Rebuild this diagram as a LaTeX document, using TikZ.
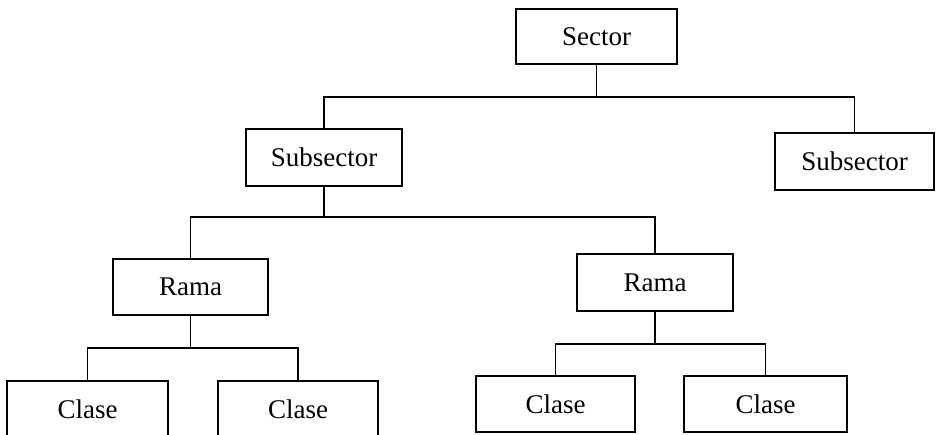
\documentclass[tikz,border=0pt]{standalone}
\usepackage{fontspec}
\setmainfont{Liberation Serif}
\begin{document}
\begin{tikzpicture}[x=1pt,y=-1pt,
  box/.style={draw,line width=1.5pt,inner sep=0pt,font=\fontsize{27}{32}\selectfont},
  conn/.style={line width=1.5pt}]
\path[use as bounding box,fill=white] (0,0) rectangle (936,435);
\clip (0,0) rectangle (936,435);
\node[box,minimum width=161pt,minimum height=55pt] (sector) at (596.5,36.5) {Sector};
\node[box,minimum width=156pt,minimum height=57pt] (subL) at (324,157.5) {Subsector};
\node[box,minimum width=159pt,minimum height=57pt] (subR) at (854.5,161.5) {Subsector};
\node[box,minimum width=155pt,minimum height=56pt] (ramaL) at (190.5,287) {Rama};
\node[box,minimum width=156pt,minimum height=57pt] (ramaR) at (655,282.5) {Rama};
\node[box,minimum width=161pt,minimum height=56pt] (c1) at (87.5,409) {Clase};
\node[box,minimum width=160pt,minimum height=56pt] (c2) at (298,409) {Clase};
\node[box,minimum width=159pt,minimum height=56pt] (c3) at (555.5,404) {Clase};
\node[box,minimum width=163pt,minimum height=56pt] (c4) at (765.5,404) {Clase};
% bus lines
\coordinate (b1) at (0,97);
\coordinate (b2) at (0,217);
\coordinate (b3) at (0,348);
\coordinate (b4) at (0,344);
\draw[conn] (sector.south) -- (sector.south |- b1);
\draw[conn] (subL.north) |- (subR.north |- b1) -- (subR.north);
\draw[conn] (subL.south) -- (subL.south |- b2);
\draw[conn] (ramaL.north) |- (ramaR.north |- b2) -- (ramaR.north);
\draw[conn] (ramaL.south) -- (ramaL.south |- b3);
\draw[conn] (c1.north) |- (c2.north |- b3) -- (c2.north);
\draw[conn] (ramaR.south) -- (ramaR.south |- b4);
\draw[conn] (c3.north) |- (c4.north |- b4) -- (c4.north);
\end{tikzpicture}
\end{document}
